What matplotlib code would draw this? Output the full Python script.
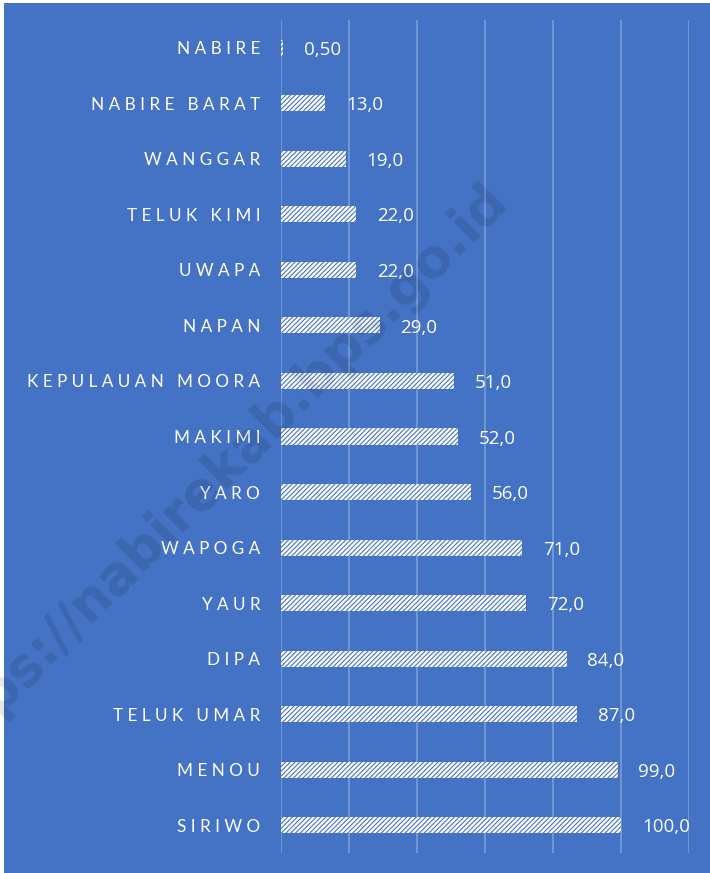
import matplotlib
matplotlib.use("Agg")
import matplotlib.pyplot as plt
from matplotlib.patches import Rectangle

districts = ["NABIRE", "NABIRE BARAT", "WANGGAR", "TELUK KIMI", "UWAPA", "NAPAN",
             "KEPULAUAN MOORA", "MAKIMI", "YARO", "WAPOGA", "YAUR", "DIPA",
             "TELUK UMAR", "MENOU", "SIRIWO"]
values = [0.5, 13.0, 19.0, 22.0, 22.0, 29.0, 51.0, 52.0, 56.0, 71.0, 72.0, 84.0,
          87.0, 99.0, 100.0]
value_labels = ["0,50", "13,0", "19,0", "22,0", "22,0", "29,0", "51,0", "52,0",
                "56,0", "71,0", "72,0", "84,0", "87,0", "99,0", "100,0"]

BLUE = "#4472C4"
GRID = "#7b9bd6"

plt.rcParams["font.family"] = ["Lato", "DejaVu Sans"]
plt.rcParams["hatch.linewidth"] = 0.8

fig = plt.figure(figsize=[7.1, 8.73], dpi=100, facecolor="white")
fig.patches.append(Rectangle((4 / 710, 0), 1, 1 - 3 / 873, transform=fig.transFigure,
                             facecolor=BLUE, edgecolor="none", zorder=-10))

ax = fig.add_axes([281 / 710, 20 / 873, 408 / 710, 833 / 873])
ax.set_facecolor("none")

ypos = list(range(len(districts)))
ax.barh(ypos, values, height=0.29, color="white", edgecolor=BLUE,
        hatch="///////", linewidth=0, zorder=3)

ax.set_xlim(0, 120)
ax.set_ylim(14.5, -0.5)
ax.set_xticks(range(0, 121, 20))
ax.xaxis.grid(True, color=GRID, linewidth=1.2, zorder=1)
ax.tick_params(length=0, labelbottom=False)
for s in ax.spines.values():
    s.set_visible(False)


def spaced(name):
    # letter-spaced labels like the office chart
    return "   ".join(" ".join(w) for w in name.split(" "))


ax.set_yticks(ypos)
ax.set_yticklabels([spaced(d) for d in districts], color="white", fontsize=12.3)
ax.tick_params(axis="y", pad=15)

for y, v, lab in zip(ypos, values, value_labels):
    ax.annotate(lab, (v, y), xytext=(15, -1.5), textcoords="offset points",
                ha="left", va="center", color="white", fontsize=13.5,
                family=["Open Sans", "DejaVu Sans"], zorder=4)

# watermark
fig.text(0.299, 0.452, "https://nabirekab.bps.go.id", rotation=45,
         ha="center", va="center", fontsize=38, fontweight="bold",
         color="black", alpha=0.1, family="DejaVu Sans", zorder=10)

fig.savefig("out.png", dpi=100, facecolor="white")
